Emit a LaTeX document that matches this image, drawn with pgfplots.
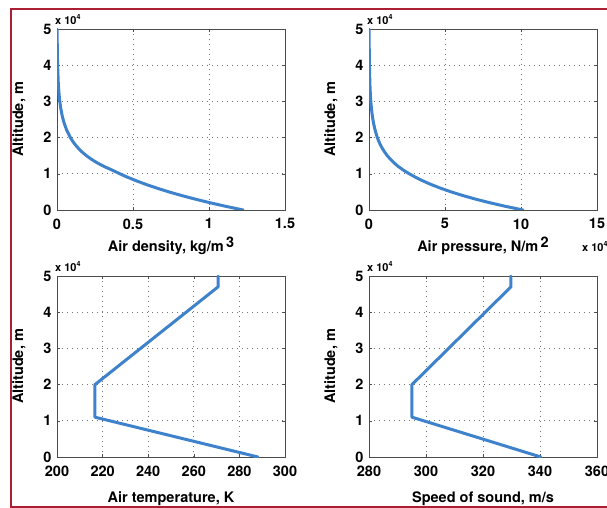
\documentclass[border=0pt]{standalone}
\usepackage{fontspec}
\setmainfont{TeX Gyre Heros}
\usepackage{pgfplots}
\pgfplotsset{compat=1.18}

\definecolor{mblue}{RGB}{62,130,204}
\definecolor{framered}{RGB}{172,30,52}

\pgfplotsset{
  atm/.style={
    scale only axis, width=228pt, height=181pt,
    ymin=0, ymax=50000,
    ytick={0,10000,20000,30000,40000,50000},
    scaled y ticks=base 10:-4,
    ytick scale label code/.code={x 10\raisebox{0.9ex}{\fontsize{7}{8}\selectfont ##1}},
    every y tick scale label/.style={at={(axis description cs:0,1)},
      anchor=south west, inner sep=0pt, yshift=4pt,
      font=\fontsize{11}{13}\selectfont\bfseries},
    grid=major,
    grid style={black!55, line width=0.7pt, dash pattern=on 0.7pt off 4.3pt},
    axis line style={black!70, line width=0.6pt},
    tick align=inside, major tick length=3pt,
    tick style={black!70, line width=0.5pt},
    /pgf/number format/assume math mode=true,
    tick label style={font=\fontsize{14.5}{16}\selectfont\bfseries},
    xticklabel style={yshift=-5pt},
    yticklabel style={xshift=-2pt},
    label style={font=\fontsize{14.5}{16}\selectfont\bfseries},
    ylabel={Altitude, m},
    ylabel style={at={(axis description cs:-0.167,0.5)}, anchor=center},
  },
  toprow/.style={xlabel style={at={(axis description cs:0.5,0)}, anchor=base, yshift=-42pt}},
  botrow/.style={xlabel style={at={(axis description cs:0.5,0)}, anchor=base, yshift=-45pt}},
  curve/.style={line width=3pt, color=mblue, line join=round, line cap=round},
}

\begin{document}
\begin{tikzpicture}
\useasboundingbox (0pt,0pt) rectangle (607pt,508pt);
\clip (0pt,0pt) rectangle (607pt,508pt);

% air density
\begin{axis}[atm, toprow, at={(57pt,298pt)}, anchor=south west,
  xmin=0, xmax=1.5, xtick={0,0.5,1,1.5}, scaled x ticks=false,
  xlabel={Air density, kg/m\,\raisebox{0.6ex}{3}}]
\addplot[curve] coordinates {
  (1.2250,0) (1.1117,1000) (1.0066,2000) (0.9093,3000) (0.8194,4000)
  (0.7364,5000) (0.6601,6000) (0.5900,7000) (0.5258,8000) (0.4671,9000)
  (0.4135,10000) (0.3639,11000) (0.3108,12000) (0.2655,13000) (0.2268,14000)
  (0.1937,15000) (0.1654,16000) (0.1413,17000) (0.1207,18000) (0.1031,19000)
  (0.0880,20000) (0.0644,22000) (0.0469,24000) (0.0343,26000) (0.0251,28000)
  (0.0184,30000) (0.0136,32000) (0.0085,35000) (0.0040,40000) (0.0019,45000)
  (0.0014,47000) (0.0010,50000)
};
\end{axis}

% air pressure
\begin{axis}[atm, toprow, at={(369pt,298pt)}, anchor=south west,
  xmin=0, xmax=150000, xtick={0,50000,100000,150000},
  scaled x ticks=base 10:-4,
  xtick scale label code/.code={x 10\raisebox{0.9ex}{\fontsize{7}{8}\selectfont #1}},
  every x tick scale label/.style={at={(axis description cs:1,0)},
    anchor=base west, inner sep=0pt, xshift=-15pt, yshift=-37pt,
    font=\fontsize{11}{13}\selectfont\bfseries},
  xlabel={Air pressure, N/m\,\raisebox{0.6ex}{2}}]
\addplot[curve] coordinates {
  (101325,0) (89876,1000) (79501,2000) (70121,3000) (61660,4000)
  (54048,5000) (47217,6000) (41105,7000) (35651,8000) (30800,9000)
  (26500,10000) (22632,11000) (19330,12000) (16510,13000) (14102,14000)
  (12045,15000) (10287,16000) (8786,17000) (7505,18000) (6410,19000)
  (5475,20000) (4047,22000) (2972,24000) (2188,26000) (1616,28000)
  (1197,30000) (889,32000) (574,35000) (287,40000) (149,45000)
  (111,47000) (80,50000)
};
\end{axis}

% air temperature
\begin{axis}[atm, botrow, at={(57pt,51pt)}, anchor=south west,
  xmin=200, xmax=300, xtick={200,220,240,260,280,300}, scaled x ticks=false,
  xlabel={Air temperature, K}]
\addplot[curve] coordinates {
  (288.15,0) (216.65,11000) (216.65,20000) (270.65,47000) (270.65,50000)
};
\end{axis}

% speed of sound
\begin{axis}[atm, botrow, at={(369pt,51pt)}, anchor=south west,
  xmin=280, xmax=360, xtick={280,300,320,340,360}, scaled x ticks=false,
  xlabel={Speed of sound, m/s}]
\addplot[curve] coordinates {
  (340.29,0) (295.07,11000) (295.07,20000) (329.80,47000) (329.80,50000)
};
\end{axis}

\draw[framered, line width=2pt] (607pt,499pt) -- (11pt,499pt) -- (11pt,1pt) -- (607pt,1pt);
\end{tikzpicture}
\end{document}
